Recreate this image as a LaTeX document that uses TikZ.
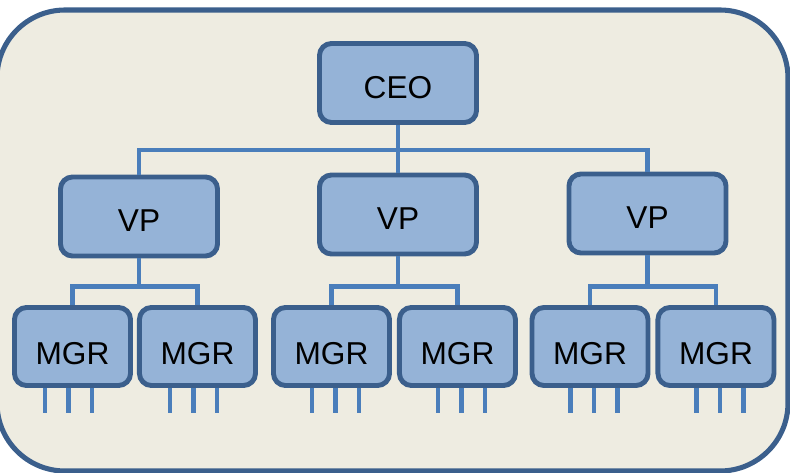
\documentclass[tikz,border=0pt]{standalone}
\usepackage{fontspec}
\setmainfont{Liberation Sans}
\usetikzlibrary{positioning}
\definecolor{BoxFill}{HTML}{95B3D7}
\definecolor{BoxLine}{HTML}{3B5F8C}
\definecolor{LinkLine}{HTML}{4A7EBB}
\definecolor{Paper}{HTML}{EEECE1}
\tikzstyle{Block} = [draw=BoxLine, fill=BoxFill, line width=3.5pt, rounded corners=0.3cm, minimum width=3.925cm, minimum height=1.975cm, font=\fontsize{22.5}{26}\selectfont, text height=21.5pt, text depth=0pt]
\tikzstyle{Small} = [Block, minimum width=2.9cm, minimum height=1.95cm, text height=26pt]
\tikzstyle{Link} = [draw=LinkLine, line width=3.2pt]

\begin{document}
\begin{tikzpicture}[x=0.025cm, y=-0.025cm]
    \useasboundingbox (0,0) rectangle (790,473);
    \draw[draw=BoxLine, fill=Paper, line width=3.6pt, rounded corners=1.7cm] (-3,10) rectangle (788,471);

    \node[Block] (ceo) at (398,83)     {CEO};
    \node[Block] (vp1) at (139,216.5)  {VP};
    \node[Block] (vp2) at (398,214.5)  {VP};
    \node[Block] (vp3) at (647.5,213.5) {VP};

    \node[Small] (mgr1) at (72.5,346.5)          {MGR};
    \node[Small] (mgr2) [right=0.1cm of mgr1]    {MGR};
    \node[Small] (mgr3) at (331.5,346.5)         {MGR};
    \node[Small] (mgr4) [right=0.125cm of mgr3]  {MGR};
    \node[Small] (mgr5) at (590,346.5)           {MGR};
    \node[Small] (mgr6) [right=0.125cm of mgr5]  {MGR};

    \foreach \v in {vp1,vp2,vp3}
      \draw[Link] (ceo.south) -- ++(0,25) -| (\v.north);
    \foreach \v/\a/\b/\d in {vp1/mgr1/mgr2/28, vp2/mgr3/mgr4/30, vp3/mgr5/mgr6/31} {
      \draw[Link] (\v.south) -- ++(0,\d) -| (\a.north);
      \draw[Link] (\v.south) -- ++(0,\d) -| (\b.north);
    }
    \foreach \m/\o in {mgr1/-4, mgr2/-4, mgr3/4, mgr4/4, mgr5/4, mgr6/4}
      \foreach \dx in {-23.5,0,23.5}
        \draw[Link] ([xshift={(\o+\dx)*0.025cm}]\m.south) -- ++(0,25);
  \end{tikzpicture}
\end{document}
